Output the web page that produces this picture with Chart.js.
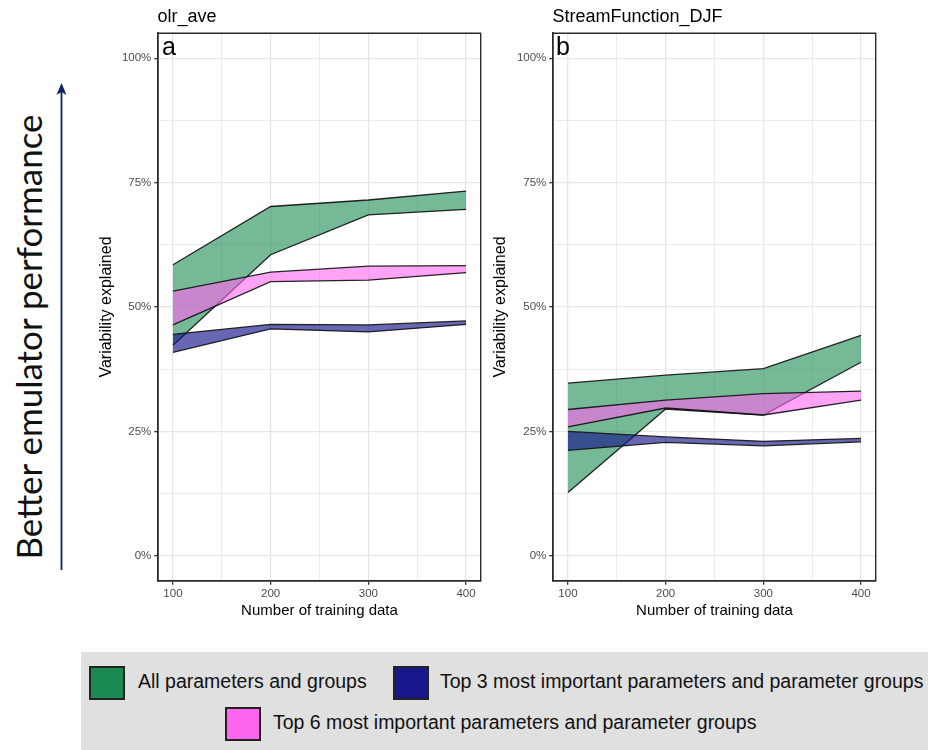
<!DOCTYPE html>
<html>
<head>
<meta charset="utf-8">
<script src="https://cdn.jsdelivr.net/npm/chart.js@4.4.1/dist/chart.umd.min.js"></script>
<style>
  html, body { margin: 0; padding: 0; background: #fff; }
  body { width: 928px; height: 750px; position: relative; overflow: hidden;
         font-family: 'Liberation Sans', Arial, sans-serif; }
  canvas { position: absolute; top: 0; }
  .ptitle { position: absolute; font-size: 18px; line-height: 1; color: #000; white-space: nowrap; }
  .plabel { position: absolute; font-size: 25px; line-height: 1; color: #000; }
  #side { position: absolute; left: 28px; top: 337px; transform: translate(-50%, -50%) rotate(-90deg);
          font-family: Lato, 'Open Sans', sans-serif; font-size: 35px; line-height: 1.2;
          white-space: nowrap; color: #111; }
  #arrow { position: absolute; left: 0; top: 0; }
  #legend { position: absolute; left: 81px; top: 652px; width: 847px; height: 98px; background: #e0e0e0; }
  .key { position: absolute; width: 32px; height: 30px; border: 2px solid #222; }
  .ktext { position: absolute; font-size: 19.5px; line-height: 1; white-space: nowrap; color: #111; }
</style>
</head>
<body>

<svg id="arrow" width="90" height="600">
  <line x1="61.5" y1="570" x2="61.5" y2="92" stroke="#10235e" stroke-width="1.8"/>
  <polygon points="61.5,83 66.5,95 61.5,92 56.5,95" fill="#10235e"/>
</svg>
<div id="side">Better emulator performance</div>

<canvas id="panelA" width="400" height="625" style="left:90px"></canvas>
<canvas id="panelB" width="400" height="625" style="left:485px"></canvas>

<div class="ptitle" style="left:157.5px; top:7px">olr_ave</div>
<div class="ptitle" style="left:552.5px; top:7px">StreamFunction_DJF</div>
<div class="plabel" style="left:162px; top:34px">a</div>
<div class="plabel" style="left:556px; top:34px">b</div>

<div id="legend"></div>
<div class="key" style="left:89px; top:666px; background:#1b8a52"></div>
<div class="ktext" style="left:138px; top:672px">All parameters and groups</div>
<div class="key" style="left:393px; top:666px; background:#17168a"></div>
<div class="ktext" style="left:440px; top:672px">Top 3 most important parameters and parameter groups</div>
<div class="key" style="left:225px; top:707px; background:#ff66f0"></div>
<div class="ktext" style="left:273px; top:713px">Top 6 most important parameters and parameter groups</div>

<script>
// Number of training runs on the x axis
const trainingSizes = [100, 200, 300, 400];

// Axis ticks: labelled (major) and unlabelled (minor) grid positions
const xMajor = [100, 200, 300, 400];
const xGrid = [100, 150, 200, 250, 300, 350, 400];
const yMajor = [0, 25, 50, 75, 100];
const yGrid = [0, 12.5, 25, 37.5, 50, 62.5, 75, 87.5, 100];

// olr_ave: variability explained (%), lower and upper bounds of each band
const olrAllLow   = [42.3, 60.5, 68.5, 69.6];
const olrAllHigh  = [58.5, 70.2, 71.5, 73.3];
const olrTop3Low  = [40.9, 45.6, 45.0, 46.5];
const olrTop3High = [44.5, 46.5, 46.4, 47.2];
const olrTop6Low  = [46.4, 55.1, 55.4, 56.9];
const olrTop6High = [53.2, 57.0, 58.2, 58.3];

// StreamFunction_DJF: variability explained (%), lower and upper bounds
const sfAllLow   = [12.7, 29.5, 28.3, 38.9];
const sfAllHigh  = [34.7, 36.3, 37.6, 44.3];
const sfTop3Low  = [21.2, 22.8, 22.1, 22.9];
const sfTop3High = [25.0, 23.9, 23.0, 23.6];
const sfTop6Low  = [25.9, 29.7, 28.3, 31.3];
const sfTop6High = [29.4, 31.3, 32.6, 33.1];

Chart.defaults.font.family = "'Liberation Sans', Arial, sans-serif";

const FILL_ALL  = 'rgba(27,138,82,0.6)';
const FILL_TOP3 = 'rgba(23,22,138,0.65)';
const FILL_TOP6 = 'rgba(255,102,240,0.6)';
const EDGE = 'rgba(15,15,15,0.9)';

function pts(values) {
  return trainingSizes.map((x, i) => ({ x: x, y: values[i] }));
}

function band(low, high, fillColor, lowIndex, order) {
  return [
    { data: pts(low), fill: false, borderColor: EDGE, borderWidth: 1.3,
      pointRadius: 0, tension: 0, order: order },
    { data: pts(high), fill: lowIndex, backgroundColor: fillColor, borderColor: EDGE,
      borderWidth: 1.3, pointRadius: 0, tension: 0, order: order }
  ];
}

// draws the top and right sides of the panel frame
const frame = {
  id: 'frame',
  afterDraw(chart) {
    const { ctx, chartArea: a } = chart;
    ctx.save();
    ctx.strokeStyle = '#2a2a2a';
    ctx.lineWidth = 1.4;
    ctx.beginPath();
    ctx.moveTo(a.left, a.top);
    ctx.lineTo(a.right, a.top);
    ctx.lineTo(a.right, a.bottom);
    ctx.stroke();
    ctx.restore();
  }
};

function makePanel(id, series, padLeft, axisWidth) {
  const datasets = [
    ...band(series.allLow, series.allHigh, FILL_ALL, 0, 3),
    ...band(series.top3Low, series.top3High, FILL_TOP3, 2, 2),
    ...band(series.top6Low, series.top6High, FILL_TOP6, 4, 1)
  ];
  return new Chart(document.getElementById(id), {
    type: 'line',
    data: { datasets },
    plugins: [frame],
    options: {
      responsive: false,
      animation: false,
      layout: { padding: { left: padLeft, top: 33.3, right: 9.3, bottom: 5.3 } },
      plugins: { legend: { display: false }, tooltip: { enabled: false }, title: { display: false } },
      scales: {
        x: {
          type: 'linear', min: 85, max: 415, bounds: 'data',
          afterBuildTicks: s => { s.ticks = xGrid.map(v => ({ value: v })); },
          afterFit: s => { s.height = 39; },
          ticks: {
            autoSkip: false, maxRotation: 0, padding: 2, color: '#4d4d4d', font: { size: 11.5 },
            callback: v => xMajor.includes(v) ? String(v) : ''
          },
          grid: {
            color: '#e6e6e6',
            lineWidth: c => (c.tick && xMajor.includes(c.tick.value)) ? 1.3 : 0.8,
            tickLength: 4,
            tickColor: c => (c.tick && xMajor.includes(c.tick.value)) ? '#333' : 'rgba(0,0,0,0)'
          },
          border: { color: '#2a2a2a', width: 1.8 },
          title: { display: true, text: 'Number of training data', color: '#000',
                   font: { size: 15 }, padding: 0 }
        },
        y: {
          type: 'linear', min: -5, max: 105, bounds: 'data',
          afterBuildTicks: s => { s.ticks = yGrid.map(v => ({ value: v })); },
          afterFit: s => { s.width = axisWidth; },
          ticks: {
            autoSkip: false, padding: 3, color: '#4d4d4d', font: { size: 11.5 },
            callback: v => yMajor.includes(v) ? v + '%' : ''
          },
          grid: {
            color: '#e6e6e6',
            lineWidth: c => (c.tick && yMajor.includes(c.tick.value)) ? 1.3 : 0.8,
            tickLength: 4,
            tickColor: c => (c.tick && yMajor.includes(c.tick.value)) ? '#333' : 'rgba(0,0,0,0)'
          },
          border: { color: '#2a2a2a', width: 1.8 },
          title: { display: true, text: 'Variability explained', color: '#000',
                   font: { size: 16 }, padding: 0 }
        }
      }
    }
  });
}

makePanel('panelA', {
  allLow: olrAllLow, allHigh: olrAllHigh,
  top3Low: olrTop3Low, top3High: olrTop3High,
  top6Low: olrTop6Low, top6High: olrTop6High
}, 7, 61.3);

makePanel('panelB', {
  allLow: sfAllLow, allHigh: sfAllHigh,
  top3Low: sfTop3Low, top3High: sfTop3High,
  top6Low: sfTop6Low, top6High: sfTop6High
}, 6.4, 61.9);
</script>
</body>
</html>
